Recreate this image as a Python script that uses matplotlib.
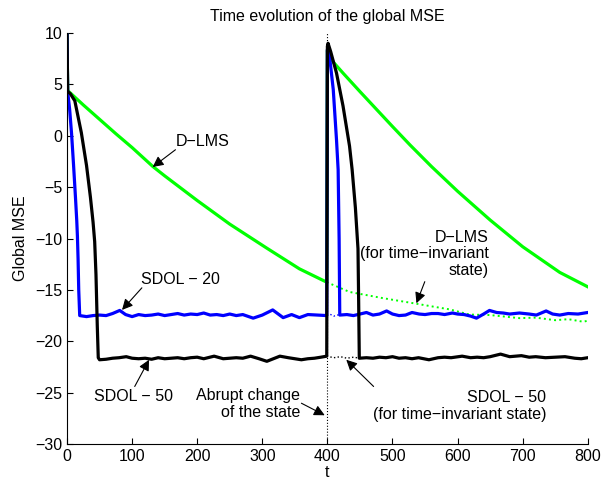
import matplotlib
matplotlib.use("Agg")
import matplotlib.pyplot as plt

# values (t, global MSE in dB)

# D-LMS
dlms_t = [0, 1, 25, 50, 75, 100, 132, 150, 200, 250, 306, 357, 399,
          400, 402, 410, 424, 450, 475, 500, 527, 560, 600, 650, 700, 757, 800]
dlms_mse = [10, 4.4, 3.0, 1.6, 0.2, -1.15, -3.0, -3.9, -6.3, -8.6, -10.9, -12.95, -14.25,
            8.3, 7.8, 7.1, 6.1, 4.3, 2.6, 0.9, -0.9, -3.0, -5.4, -8.2, -10.8, -13.3, -14.7]

# D-LMS, time-invariant state (dotted)
dlms_inv_t = [399, 434, 485, 537, 560, 588, 618, 650, 695, 720, 750, 770, 793, 800]
dlms_inv_mse = [-14.25, -15.2, -15.8, -16.35, -16.6, -16.9, -17.4, -17.45, -17.75,
                -17.7, -17.95, -17.85, -18.1, -18.0]

# SDOL - 20
sdol20_t = [0, 1, 4, 7, 10, 13, 15, 16, 17, 18, 19.5,
            30, 40, 50, 60, 70, 81, 90, 100, 110, 120, 130, 140, 150, 160, 170,
            180, 190, 200, 210, 220, 230, 240, 250, 260, 270, 286, 300, 316, 332,
            345, 357, 370, 385, 399,
            400, 403, 409, 414, 416.5, 418, 419,
            430, 440, 450, 460, 470, 480, 491, 500, 510, 520, 530, 541, 550, 560,
            570, 580, 592, 600, 610, 620, 629, 640, 649, 660, 670, 680, 695, 710,
            721, 736, 746, 757, 770, 785, 800]
sdol20_mse = [10, 4.3, 2.6, 0.2, -2.8, -6.0, -8.3, -9.8, -12.0, -15.0, -17.5,
              -17.6, -17.5, -17.45, -17.5, -17.3, -17.0, -17.4, -17.6, -17.4, -17.5,
              -17.45, -17.35, -17.5, -17.4, -17.3,
              -17.45, -17.35, -17.4, -17.25, -17.45, -17.4, -17.5, -17.35, -17.5,
              -17.4, -17.75, -17.45, -16.95, -17.7,
              -17.4, -17.7, -17.4, -17.45, -17.5,
              8.4, 7.9, 4.5, -0.4, -3.3, -10.0, -17.45,
              -17.4, -17.5, -17.35, -17.2, -17.45, -17.35, -17.05, -17.35, -17.5,
              -17.45, -17.2, -17.35, -17.4, -17.3,
              -17.3, -17.4, -17.25, -17.35, -17.4, -17.55, -17.75, -17.35, -17.0,
              -17.2, -17.25, -17.35, -17.25, -17.35,
              -17.45, -17.05, -17.35, -17.45, -17.3, -17.35, -17.2]

# SDOL - 50
sdol50_t = [0, 1, 5, 12, 22, 30, 36, 40, 42.5, 44.5, 46.5, 48, 50,
            60, 70, 80, 91, 100, 110, 120, 130, 140, 150, 160, 170, 180, 190,
            200, 210, 226, 240, 250, 260, 270, 282, 295, 307, 315, 327, 340,
            350, 360, 370, 380, 390, 399,
            400, 401, 405, 414, 424, 434, 438, 443, 447, 448, 449,
            460, 470, 480, 490, 500, 510, 520, 530, 540, 556, 570, 580, 590,
            607, 620, 630, 640, 650, 666, 680, 698, 710, 720, 735, 750, 765,
            780, 790, 800]
sdol50_mse = [10, 4.3, 4.1, 3.4, 0.3, -2.9, -6.0, -8.4, -10.3, -13.5, -18.5, -21.6, -21.8,
              -21.75, -21.65, -21.6, -21.5, -21.65, -21.7, -21.65, -21.75, -21.6,
              -21.7, -21.65, -21.6, -21.7, -21.6,
              -21.55, -21.7, -21.45, -21.7, -21.65, -21.6, -21.65, -21.45, -21.7,
              -21.95, -21.75, -21.45, -21.6,
              -21.7, -21.8, -21.7, -21.65, -21.55, -21.45,
              8.7, 9.0, 8.2, 6.1, 2.9, -1.0, -3.3, -7.0, -11.0, -16.0, -21.65,
              -21.6, -21.65, -21.55, -21.6, -21.5, -21.65, -21.6, -21.7, -21.6,
              -21.8, -21.6, -21.55, -21.6,
              -21.45, -21.6, -21.55, -21.6, -21.5, -21.25, -21.5, -21.4, -21.55,
              -21.5, -21.6, -21.55, -21.5,
              -21.65, -21.7, -21.6]

# time-invariant continuations hidden under the SDOL curves (dotted)
sdol20_inv_t = [399, 405, 410, 415, 420]
sdol20_inv_mse = [-17.5, -17.4, -17.55, -17.45, -17.45]
sdol50_inv_t = [399, 410, 420, 430, 440, 450]
sdol50_inv_mse = [-21.45, -21.6, -21.5, -21.65, -21.55, -21.65]

change_t = 400

plt.rcParams["font.family"] = ["Liberation Sans", "DejaVu Sans"]
plt.rcParams["font.size"] = 11.5

fig = plt.figure(figsize=(6.01, 4.84), dpi=100)
ax = fig.add_axes([0.1115, 0.0826, 0.8665, 0.8492])

# vertical marker at the abrupt change
ax.plot([change_t, change_t], [-30, 10], color="black", linestyle=":", linewidth=0.8)

ax.plot(dlms_inv_t, dlms_inv_mse, color=(0, 1, 0), linestyle=":", linewidth=1.4)
ax.plot(sdol20_inv_t, sdol20_inv_mse, color="blue", linestyle=":", linewidth=1.0)
ax.plot(sdol50_inv_t, sdol50_inv_mse, color="black", linestyle=":", linewidth=1.0)

ax.plot(dlms_t, dlms_mse, color=(0, 1, 0), linewidth=2.3)
ax.plot(sdol20_t, sdol20_mse, color="blue", linewidth=2.3)
ax.plot(sdol50_t, sdol50_mse, color="black", linewidth=2.3)

ax.set_xlim(0, 800)
ax.set_ylim(-30, 10)
ax.set_xticks(range(0, 801, 100))
ax.set_yticks(range(-30, 11, 5))
ax.tick_params(direction="in", length=4, width=0.8)
ax.spines["top"].set_visible(False)
ax.spines["right"].set_visible(False)

ax.set_title("Time evolution of the global MSE", fontsize=11.5, pad=9)
ax.set_xlabel("t", labelpad=1)
ax.set_ylabel("Global MSE", labelpad=5)

arrow = dict(arrowstyle="-|>", color="black", lw=0.8, mutation_scale=16, shrinkA=0, shrinkB=0)

# labels and pointers
ax.text(208, -0.6, "D\u2212LMS", ha="center", va="center")
ax.annotate("", xy=(131.6, -3.04), xytext=(166.6, -1.36), arrowprops=arrow)

ax.text(174.4, -13.95, "SDOL \u2212 20", ha="center", va="center")
ax.annotate("", xy=(84.5, -16.95), xytext=(115, -14.8), arrowprops=arrow)

ax.text(102.7, -25.4, "SDOL \u2212 50", ha="center", va="center")
ax.annotate("", xy=(126, -21.8), xytext=(104, -24.4), arrowprops=arrow)

ax.text(358.4, -26.1, "Abrupt change\nof the state", ha="right", va="center",
        multialignment="right", linespacing=1.15)
ax.annotate("", xy=(395.9, -27.2), xytext=(360.1, -26.03), arrowprops=arrow)

ax.text(647.6, -11.5, "D\u2212LMS\n(for time\u2212invariant\nstate)", ha="right", va="center",
        multialignment="right", linespacing=1.15)
ax.annotate("", xy=(536.8, -16.3), xytext=(549.6, -14.2), arrowprops=arrow)

ax.text(736.5, -26.27, "SDOL \u2212 50\n(for time\u2212invariant state)", ha="right", va="center",
        multialignment="right", linespacing=1.15)
ax.annotate("", xy=(429, -21.8), xytext=(471, -24.4), arrowprops=arrow)

fig.savefig("out.png", dpi=100)
